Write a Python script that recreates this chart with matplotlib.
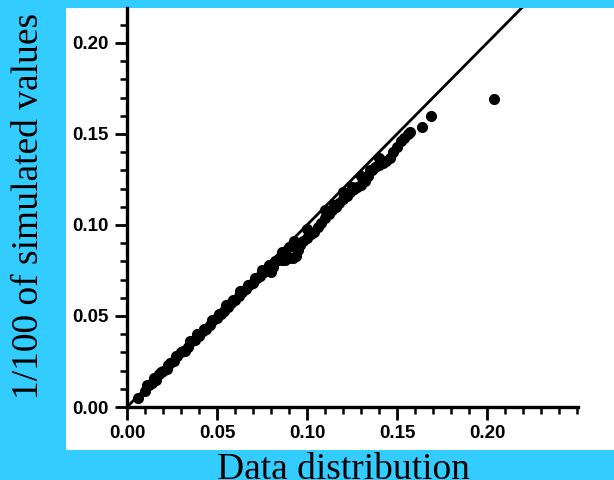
import matplotlib
matplotlib.use("Agg")
import matplotlib.pyplot as plt
from matplotlib.ticker import MultipleLocator, FormatStrFormatter

# Q-Q style comparison: data distribution vs 1/100 of simulated values
data_x = [0.006, 0.010, 0.012, 0.014, 0.016, 0.018, 0.020, 0.022, 0.024, 0.026,
          0.028, 0.030, 0.032, 0.034, 0.036, 0.038, 0.040, 0.042, 0.044, 0.046,
          0.048, 0.050, 0.052, 0.054, 0.056, 0.058, 0.060, 0.062, 0.064, 0.066,
          0.068, 0.070, 0.072, 0.074, 0.076, 0.078, 0.080, 0.081, 0.082, 0.084,
          0.086, 0.088, 0.090, 0.092, 0.094, 0.086, 0.090, 0.093, 0.095, 0.096,
          0.098, 0.100, 0.102, 0.104, 0.106, 0.108, 0.110, 0.112, 0.114, 0.116,
          0.118, 0.120, 0.122, 0.124, 0.126, 0.128, 0.130, 0.132, 0.134, 0.136,
          0.138, 0.140, 0.142, 0.144, 0.146, 0.148, 0.150, 0.152, 0.154, 0.156,
          0.100, 0.110, 0.120, 0.130, 0.140, 0.115, 0.125, 0.135,
          0.011, 0.015, 0.019, 0.023, 0.027, 0.031, 0.035, 0.039, 0.043, 0.047,
          0.051, 0.055, 0.059, 0.063, 0.067, 0.071, 0.075, 0.079,
          0.157, 0.164, 0.169, 0.204]
sim_y = [0.005, 0.009, 0.012, 0.013, 0.015, 0.018, 0.020, 0.021, 0.024, 0.025,
         0.028, 0.030, 0.031, 0.033, 0.036, 0.037, 0.039, 0.042, 0.043, 0.045,
         0.048, 0.049, 0.051, 0.053, 0.055, 0.057, 0.059, 0.061, 0.063, 0.065,
         0.067, 0.068, 0.071, 0.072, 0.074, 0.075, 0.074, 0.077, 0.080, 0.081,
         0.081, 0.081, 0.082, 0.082, 0.083, 0.085, 0.088, 0.091, 0.086, 0.089,
         0.091, 0.093, 0.095, 0.096, 0.099, 0.101, 0.104, 0.106, 0.108, 0.110,
         0.112, 0.114, 0.116, 0.118, 0.120, 0.121, 0.122, 0.124, 0.127, 0.130,
         0.132, 0.133, 0.134, 0.135, 0.137, 0.140, 0.143, 0.146, 0.148, 0.150,
         0.098, 0.108, 0.118, 0.127, 0.137, 0.111, 0.121, 0.130,
         0.012, 0.016, 0.019, 0.023, 0.028, 0.031, 0.036, 0.040, 0.043, 0.048,
         0.051, 0.056, 0.059, 0.064, 0.067, 0.071, 0.075, 0.078,
         0.151, 0.154, 0.160, 0.169]

x_ticks = [0.00, 0.05, 0.10, 0.15, 0.20]
y_ticks = [0.00, 0.05, 0.10, 0.15, 0.20]

W, H = 614, 480
fig = plt.figure(figsize=(W / 100, H / 100), dpi=100)
fig.patch.set_facecolor('#33ccff')

# white panel behind the plot
panel = fig.add_axes([66 / W, 1 - 450 / H, 1 - 66 / W, (450 - 8) / H])
panel.set_facecolor('white')
panel.set_xticks([])
panel.set_yticks([])
for s in panel.spines.values():
    s.set_visible(False)

ax = fig.add_axes([127 / W, 1 - 407 / H, (578 - 127) / W, (407 - 8) / H])
ax.set_zorder(2)
ax.patch.set_alpha(0)
ax.set_xlim(0, 0.2505)
ax.set_ylim(0, 0.2192)

ax.plot([0, 0.25], [0, 0.25], color='black', lw=2.0, zorder=2)
ax.plot(data_x, sim_y, 'o', color='black', ms=7, zorder=3, clip_on=False)

for s in ['top', 'right']:
    ax.spines[s].set_visible(False)
for s in ['left', 'bottom']:
    ax.spines[s].set_linewidth(2.4)

ax.set_xticks(x_ticks)
ax.set_yticks(y_ticks)
ax.xaxis.set_minor_locator(MultipleLocator(0.01))
ax.yaxis.set_minor_locator(MultipleLocator(0.01))
ax.xaxis.set_major_formatter(FormatStrFormatter('%.2f'))
ax.yaxis.set_major_formatter(FormatStrFormatter('%.2f'))
ax.tick_params(which='major', direction='out', length=9, width=2, pad=4)
ax.tick_params(which='minor', direction='out', length=5, width=1.8)
for lab in ax.get_xticklabels() + ax.get_yticklabels():
    lab.set_fontfamily('Liberation Sans')
    lab.set_fontweight('bold')
    lab.set_fontsize(13.5)

fig.text(29 / W, 1 - 206 / H, '1/100 of simulated values', rotation=90,
         ha='center', va='center', fontsize=27, family='Liberation Serif')
fig.text(343 / W, 1 - 479 / H, 'Data distribution', ha='center',
         va='baseline', fontsize=27, family='Liberation Serif')

fig.savefig('out.png', dpi=100, facecolor=fig.get_facecolor())
